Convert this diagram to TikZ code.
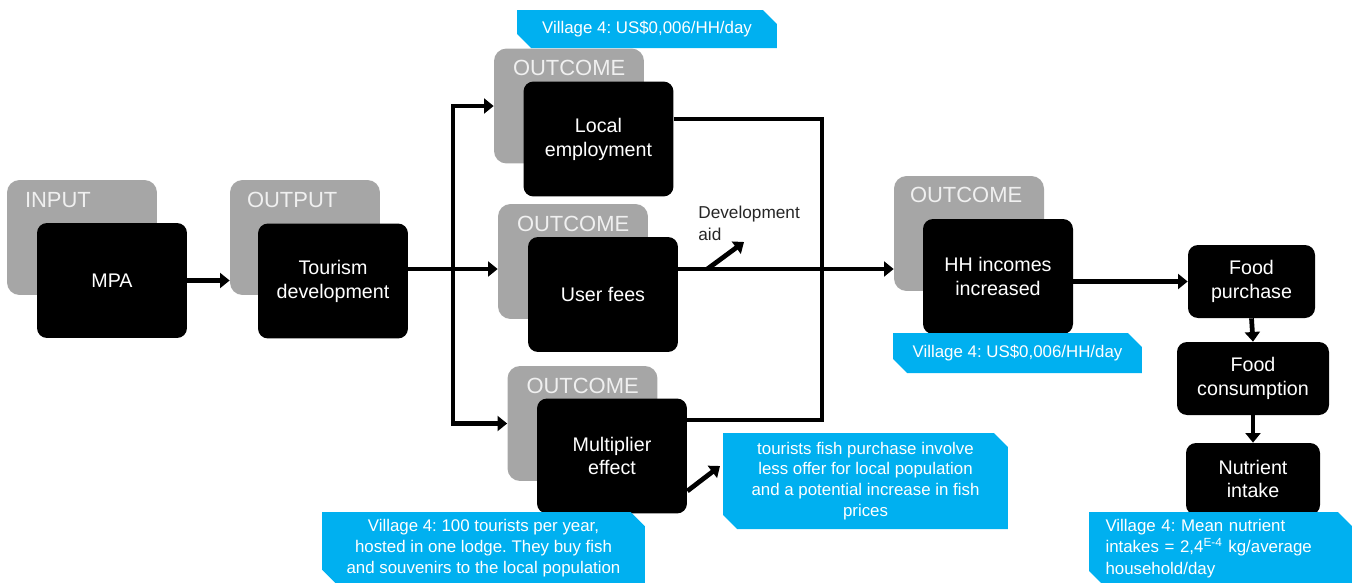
\documentclass[tikz,border=0pt]{standalone}
\usepackage{fontspec}
\setmainfont{Liberation Sans}
\usetikzlibrary{arrows.meta,shapes.misc}
\definecolor{stagegray}{HTML}{A6A6A6}
\definecolor{noteblue}{HTML}{00B0F0}
\frenchspacing

\begin{document}
\begin{tikzpicture}[x=0.02cm, y=-0.02cm,
  stage/.style={fill=stagegray, rounded corners=0.25cm, minimum width=3cm, minimum height=2.3cm, inner sep=0pt},
  tag/.style={anchor=north west, inner sep=0pt, text=white!94!black, font=\fontsize{12.5}{14}\selectfont},
  box/.style={fill=black, text=white, rounded corners=0.2cm, minimum width=3cm, minimum height=2.3cm,
    align=center, inner sep=0pt, font=\fontsize{11.2}{13.6}\selectfont},
  note/.style={chamfered rectangle, chamfered rectangle corners={north east,south west},
    chamfered rectangle xsep=0.14cm, chamfered rectangle ysep=0.14cm, fill=noteblue, text=white,
    align=center, inner sep=0pt, font=\fontsize{9.6}{11.9}\selectfont},
  arr/.style={line width=2.7pt, -{Triangle[length=5.5pt,width=8.5pt]}},
  link/.style={line width=1.8pt}]
  \useasboundingbox (0,0) rectangle (1355,582);

  % input / output
  \node[stage] (gIn) at (82,237.5) {};
  \node[tag] (tIn) at ([shift={(18,12)}]gIn.north west) {INPUT};
  \node[box] (bMPA) at (112,280.5) {MPA};

  \node[stage] (gOut) at (305,237.5) {};
  \node[tag] (tOut) at ([shift={(17,12)}]gOut.north west) {OUTPUT};
  \node[box] (bTour) at (333,281) {Tourism\\development};

  % outcomes
  \node[stage] (gEmp) at (569,106) {};
  \node[tag] (tEmp) at ([shift={(19,12)}]gEmp.north west) {OUTCOME};
  \node[box] (bEmp) at (598.5,139) {Local\\employment};

  \node[stage] (gFee) at (573,261.5) {};
  \node[tag] (tFee) at ([shift={(19,12)}]gFee.north west) {OUTCOME};
  \node[box] (bFee) at (603,294.5) {User fees};

  \node[stage] (gMul) at (582.5,423.5) {};
  \node[tag] (tMul) at ([shift={(19,12)}]gMul.north west) {OUTCOME};
  \node[box] (bMul) at (612,456) {Multiplier\\effect};

  \node[stage] (gHH) at (969,233.5) {};
  \node[tag] (tHH) at ([shift={(16,11)}]gHH.north west) {OUTCOME};
  \node[box] (bHH) at (998,276.5) {HH incomes\\increased};

  % food chain
  \node[box, minimum width=2.54cm, minimum height=1.46cm] (fPur) at (1251.5,281.5) {Food\\purchase};
  \node[box, minimum width=3.04cm, minimum height=1.46cm] (fCon) at (1253,378.5) {Food\\consumption};
  \node[box, minimum width=2.68cm, minimum height=1.44cm] (fNut) at (1253,479) {Nutrient\\intake};

  % notes
  \node[note, minimum width=5.2cm, minimum height=0.76cm] (cTop) at (647,29) {Village 4: US\$0,006/HH/day};
  \node[note, minimum width=4.98cm, minimum height=0.8cm] (cHH) at (1017.5,353) {Village 4: US\$0,006/HH/day};
  \node[note, minimum width=5.7cm, minimum height=1.92cm] (cFish) at (865.5,481)
    {tourists fish purchase involve\\less offer for local population\\and a potential increase in fish\\prices};
  \node[note, minimum width=6.46cm, minimum height=1.36cm] (cTour) at (483.5,548)
    {Village 4: 100 tourists per year,\\hosted in one lodge. They buy fish\\and souvenirs to the local population};
  \node[note, minimum width=5.26cm, minimum height=1.34cm, text width=4.6cm, align=left,
    font=\fontsize{9.6}{12.2}\selectfont] (cNut) at (1220.5,548.5)
    {Village 4: Mean nutrient\\intakes = 2,4\textsuperscript{E-4} kg/average\\household/day};

  \node[anchor=north west, inner sep=0pt, align=left, text=black!85, font=\fontsize{9.8}{12.5}\selectfont]
    (aid) at (698,206) {Development\\aid};

  % connectors
  \coordinate (fork) at (453,269);
  \coordinate (aidtip) at (744,242);
  \coordinate (fishtip) at (720,466);
  \coordinate (loopT) at (822,119);
  \coordinate (loopB) at (822,420);

  \draw[arr] (bMPA.east) -- (gOut.west |- bMPA.east);
  \draw[arr] (bTour.east |- fork) -- (gFee.west |- fork);
  \draw[arr] (fork) |- (gEmp.west);
  \draw[arr] (fork) |- (gMul.west);
  \draw[arr] (bFee.east |- fork) -- (gHH.west |- fork);
  \draw[arr] ([xshift=0.58cm]bFee.east |- fork) -- (aidtip);
  \draw[link] (bEmp.east |- loopT) -- (loopT) -- (loopB) -- (bMul.east |- loopB);
  \draw[arr] ([yshift=-0.7cm]bMul.east) -- (fishtip);
  \draw[arr] (bHH.east |- fPur.west) -- (fPur.west);
  \draw[arr] (fPur.south) -- (fCon.north);
  \draw[arr] (fCon.south) -- (fNut.north);
\end{tikzpicture}
\end{document}
